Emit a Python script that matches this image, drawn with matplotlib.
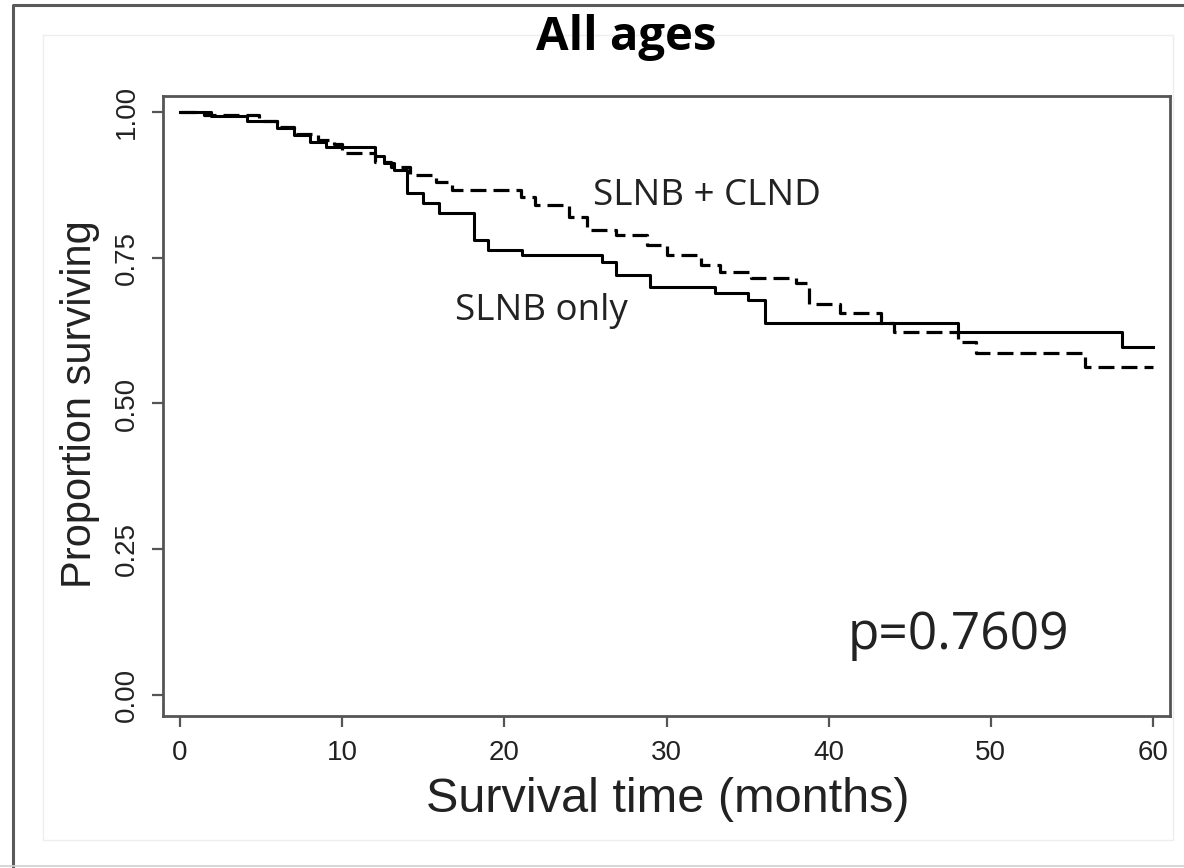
import matplotlib
matplotlib.use("Agg")
import matplotlib.pyplot as plt
from matplotlib.lines import Line2D

# Kaplan-Meier steps (months, proportion surviving)
slnb_t = [0, 1.9, 4.1, 6, 7, 8, 9, 12, 12.6, 13.2, 14, 15, 16, 18.1, 19, 21.1,
          26, 26.9, 29, 33, 35, 36.1, 48, 58.1, 60]
slnb_s = [1.0, 0.993, 0.985, 0.973, 0.96, 0.948, 0.94, 0.925, 0.912, 0.90,
          0.861, 0.844, 0.827, 0.78, 0.763, 0.755, 0.743, 0.72, 0.70, 0.69,
          0.678, 0.638, 0.622, 0.597, 0.597]

clnd_t = [0, 1.5, 4.9, 6, 7, 8.5, 9.5, 10, 12, 13, 14.2, 15.8, 16.8, 21, 21.9,
          24, 25.1, 26.9, 28.8, 30, 32.1, 33.3, 35.2, 38, 38.8, 40.7, 43.2, 44,
          48, 49.1, 55.8, 60]
clnd_s = [1.0, 0.995, 0.985, 0.975, 0.962, 0.952, 0.945, 0.93, 0.915, 0.905,
          0.892, 0.88, 0.866, 0.854, 0.84, 0.82, 0.797, 0.789, 0.772, 0.755,
          0.738, 0.726, 0.715, 0.707, 0.67, 0.655, 0.638, 0.622, 0.605, 0.586,
          0.563, 0.563]

x_ticks = [0, 10, 20, 30, 40, 50, 60]
y_ticks = [0.0, 0.25, 0.50, 0.75, 1.0]
y_ticklabels = ["0.00", "0.25", "0.50", "0.75", "1.00"]

W, H = 1184, 868
PX_PER_MONTH = 16.217          # 0 -> x=180 px, 60 -> x=1153 px
AXC = "#555555"
TXT = "#222222"
SANS = ["Liberation Sans", "DejaVu Sans"]
CAL = ["Open Sans", "DejaVu Sans"]

fig = plt.figure(figsize=(W / 100, H / 100), dpi=100)
ax = fig.add_axes([163 / W, 1 - 716 / H, (1170 - 163) / W, (716 - 96) / H])

ax.step(slnb_t, slnb_s, where="post", color="black", lw=2.2)
ax.step(clnd_t, clnd_s, where="post", color="black", lw=2.3,
        dashes=(5, 2.2))

ax.set_xlim(-1.05, 61.05)
ax.set_ylim(-0.036, 1.0274)
ax.set_xticks(x_ticks)
ax.set_xticklabels([str(v) for v in x_ticks], family=SANS, fontsize=20,
                   color=TXT)
ax.set_yticks(y_ticks)
ax.set_yticklabels(y_ticklabels, family=SANS, fontsize=20, color=TXT,
                   rotation=90, va="center")
ax.tick_params(direction="out", length=8, width=1.6, color=AXC, pad=9)
for sp in ax.spines.values():
    sp.set_color(AXC)
    sp.set_linewidth(2.0)


def month(px):
    return (px - 180) / PX_PER_MONTH


ax.text(month(593), 0.840, "SLNB + CLND", family=CAL,
        fontsize=26.5, ha="left", va="baseline", color=TXT)
ax.text(month(455), 0.643, "SLNB only", family=CAL,
        fontsize=26.5, ha="left", va="baseline", color=TXT)
ax.text(month(848), 0.079, "p=0.7609", family=CAL,
        fontsize=37, ha="left", va="baseline", color=TXT)

fig.text(626 / W, 1 - 50 / H, "All ages", family=CAL, fontsize=34,
         fontweight="bold", ha="center", va="baseline", color="black")
fig.text(668 / W, 1 - 812 / H, "Survival time (months)", family=SANS,
         fontsize=35, ha="center", va="baseline", color=TXT)
fig.text(80 / W, 1 - 404 / H, "Proportion surviving", family=SANS,
         fontsize=30, ha="center", va="center", rotation=90, color=TXT)


# outer frame and faint inner panel border
def fline(xs, ys, **kw):
    fig.add_artist(Line2D([x / W for x in xs], [1 - y / H for y in ys],
                          transform=fig.transFigure, **kw))


fline([13, 13, W + 5], [H + 5, 5, 5], color="#5a5a5a", lw=2.2)
fline([0, W], [866, 866], color="#d0d0d0", lw=1.2)
fline([43, 1173, 1173, 43, 43], [35, 35, 840, 840, 35], color="#eeeeee",
      lw=1.0)

fig.savefig("out.png", dpi=100)
